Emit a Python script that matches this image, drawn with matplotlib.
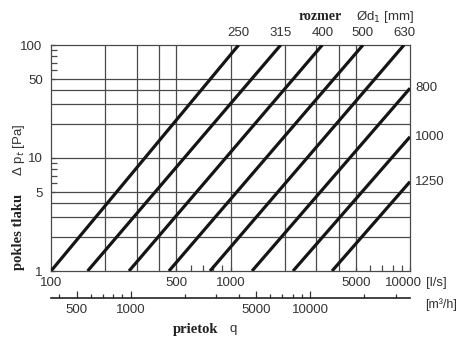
import matplotlib
matplotlib.use("Agg")
import matplotlib.pyplot as plt
import numpy as np
from matplotlib.ticker import FixedLocator, NullFormatter, FixedFormatter
import matplotlib.transforms as mtrans

# ---- data ----
diameters = [250, 315, 400, 500, 630, 800, 1000, 1250]
q_start = [100, 160, 272, 454, 769, 1318, 2230, 3678]       # l/s at 1 Pa
q_end = [1110, 1904, 3246, 5470, 9260, 10000, 10000, 10000]  # l/s at end point
dp_end = [100, 100, 100, 100, 100, 41.4, 15.4, 6.17]         # Pa at end point

x_ticks = [100, 500, 1000, 5000, 10000]
x_minor = [600, 700, 800, 900, 6000, 7000, 8000, 9000]
x_grid = [200, 300, 400, 500, 1000, 2000, 3000, 4000, 5000]
y_ticks = [1, 5, 10, 50, 100]
y_minor = [6, 7, 8, 9, 60, 70, 80, 90]
y_grid = [2, 3, 4, 5, 10, 20, 30, 40, 50]
m3h_ticks = [500, 1000, 5000, 10000]
m3h_minor = [400, 600, 700, 800, 900, 2000, 3000, 4000, 6000, 7000, 8000, 9000, 20000, 30000]

plt.rcParams['font.family'] = ['Liberation Sans', 'DejaVu Sans']
txt = '#333333'
gridc = '#4a4a4a'
FS = 9.5

fig = plt.figure(figsize=(4.59, 3.38), dpi=100)
ax = fig.add_axes([51/459, 1-271/338, (410-51)/459, (271-45)/338])
ax.set_xscale('log')
ax.set_yscale('log')
ax.set_xlim(100, 10000)
ax.set_ylim(1, 100)

for g in x_grid:
    ax.axvline(g, color=gridc, lw=0.9, zorder=1)
for g in y_grid:
    ax.axhline(g, color=gridc, lw=0.9, zorder=1)

for d, qs, qe, de in zip(diameters, q_start, q_end, dp_end):
    ax.plot([qs, qe], [1, de], color='#151515', lw=2.3, solid_capstyle='butt', zorder=3)

for s in ax.spines.values():
    s.set_color(gridc)
    s.set_linewidth(0.9)

ax.xaxis.set_major_locator(FixedLocator(x_ticks))
ax.xaxis.set_major_formatter(FixedFormatter([str(v) for v in x_ticks]))
ax.xaxis.set_minor_locator(FixedLocator(x_minor))
ax.xaxis.set_minor_formatter(NullFormatter())
ax.yaxis.set_major_locator(FixedLocator(y_ticks))
ax.yaxis.set_major_formatter(FixedFormatter([str(v) for v in y_ticks]))
ax.yaxis.set_minor_locator(FixedLocator(y_minor))
ax.yaxis.set_minor_formatter(NullFormatter())
ax.tick_params(which='major', direction='in', length=3, width=0.9, color=gridc,
               labelsize=FS, labelcolor=txt)
ax.tick_params(axis='x', which='major', pad=4)
ax.tick_params(axis='y', which='major', pad=6)
ax.tick_params(which='minor', direction='in', length=4, width=0.9, color=gridc)

# shift the last x tick label slightly left, as in the reference
fig.canvas.draw()
lbl = ax.get_xticklabels()[-1]
lbl.set_transform(lbl.get_transform() + mtrans.ScaledTranslation(-5/72, 0, fig.dpi_scale_trans))

fig.text(426/459, 1-283/338, '[l/s]', fontsize=FS, color=txt, ha='left', va='center')

# secondary axis in m3/h
sec = ax.secondary_xaxis(-0.12, functions=(lambda x: x * 3.6, lambda x: x / 3.6))
sec.xaxis.set_major_locator(FixedLocator(m3h_ticks))
sec.xaxis.set_major_formatter(FixedFormatter([str(v) for v in m3h_ticks]))
sec.xaxis.set_minor_locator(FixedLocator(m3h_minor))
sec.xaxis.set_minor_formatter(NullFormatter())
sec.spines['bottom'].set_color('#222222')
sec.spines['bottom'].set_linewidth(1.2)
sec.tick_params(which='major', direction='in', length=5, width=0.9, color='#333333',
                labelsize=FS, labelcolor=txt, pad=4)
sec.tick_params(which='minor', direction='in', length=3, width=0.9, color='#333333')
fig.text(425/459, 1-305/338, '[m³/h]', fontsize=9, color=txt, ha='left', va='center')

# diameter labels
top_tr = mtrans.blended_transform_factory(ax.transData, ax.transAxes)
right_tr = mtrans.blended_transform_factory(ax.transAxes, ax.transData)
for d, qe, de in zip(diameters, q_end, dp_end):
    if de >= 100:
        ax.text(qe, 1.025, str(d), transform=top_tr, fontsize=FS, color=txt,
                ha='center', va='bottom')
    else:
        ax.text(1.015, de, str(d), transform=right_tr, fontsize=FS, color=txt,
                ha='left', va='center')

serif = ['Liberation Serif', 'DejaVu Serif']
fig.text(320/459, 1-17/338, 'rozmer', fontsize=10, fontweight='bold',
         family=serif, color='#222222', ha='center', va='center')
fig.text(356/459, 1-17/338, 'Ød$_1$ [mm]', fontsize=FS, color=txt, ha='left', va='center')

fig.text(19/459, 1-232/338, 'pokles tlaku', fontsize=10.5, fontweight='bold',
         family=serif, color='#222222', rotation=90, ha='center', va='center')
fig.text(19/459, 1-150/338, 'Δ p$_t$ [Pa]', fontsize=FS, color=txt, rotation=90,
         ha='center', va='center')

fig.text(196/459, 1-330/338, 'prietok', fontsize=10.5, fontweight='bold',
         family=serif, color='#222222', ha='center', va='center')
fig.text(233/459, 1-329/338, 'q', fontsize=FS, color=txt, ha='center', va='center')

fig.savefig('out.png', dpi=100, facecolor='white')
